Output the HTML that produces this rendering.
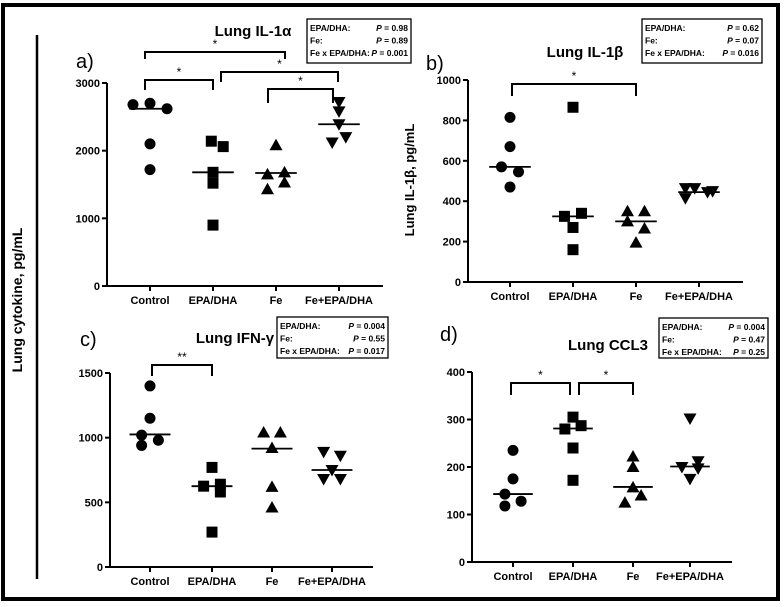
<!DOCTYPE html>
<html><head><meta charset="utf-8"><style>
body{margin:0;background:#fff;}
svg{display:block;font-family:"Liberation Sans",Arial,sans-serif;}
</style></head><body>
<svg id="fig" width="784" height="607" viewBox="0 0 784 607">
<rect x="3" y="5" width="775" height="594" fill="none" stroke="#000" stroke-width="4"/>
<line x1="37" y1="35" x2="37" y2="579" stroke="#000" stroke-width="2.5"/>
<text x="22" y="300" transform="rotate(-90 22 300)" text-anchor="middle" font-size="14" font-weight="bold">Lung cytokine, pg/mL</text>
</svg>
<script>
const categories = ["Control","EPA/DHA","Fe","Fe+EPA/DHA"];
const aValues = [[2680,2700,2620,2100,1720],[2140,2060,1680,1520,900],[2080,1650,1680,1530,1430],[2720,2580,2390,2120,2200]];
const aMedians = [2620,1680,1670,2390];
const aTicks = [0,1000,2000,3000];
const bValues = [[815,670,570,545,470],[865,325,340,270,160],[350,300,350,265,195],[465,465,445,450,415]];
const bMedians = [570,325,300,445];
const bTicks = [0,200,400,600,800,1000];
const cValues = [[1400,1150,1020,980,940],[770,625,640,580,270],[1040,1040,920,620,460],[890,860,750,680,680]];
const cMedians = [1025,625,915,750];
const cTicks = [0,500,1000,1500];
const dValues = [[235,175,143,128,118],[305,280,287,240,172],[222,200,157,140,125],[302,200,212,197,175]];
const dMedians = [143,281,158,201];
const dTicks = [0,100,200,300,400];
const aStats = [["EPA/DHA:","P = ","0.98"],["Fe:","P = ","0.89"],["Fe x EPA/DHA:","P = ","0.001"]];
const bStats = [["EPA/DHA:","P = ","0.62"],["Fe:","P = ","0.07"],["Fe x EPA/DHA:","P = ","0.016"]];
const cStats = [["EPA/DHA:","P = ","0.004"],["Fe:","P = ","0.55"],["Fe x EPA/DHA:","P = ","0.017"]];
const dStats = [["EPA/DHA:","P = ","0.004"],["Fe:","P = ","0.47"],["Fe x EPA/DHA:","P = ","0.25"]];

const NS="http://www.w3.org/2000/svg";
const svg=document.getElementById('fig');
function el(tag,attrs,parent,text){const e=document.createElementNS(NS,tag);for(const k in attrs)e.setAttribute(k,attrs[k]);if(text!==undefined)e.textContent=text;(parent||svg).appendChild(e);return e;}
const jitterA=[[-1,0,1,0,0],[-0.1,0.6,0,0,0],[0,-0.5,0.5,0.5,-0.5],[0,0,0,-0.4,0.4]];
const jitterB=[[0,0,-0.5,0.5,0],[0,-0.5,0.5,0,0],[-0.5,-0.5,0.5,0.5,0],[-0.8,-0.25,0.5,0.8,-0.8]];
const jitterC=[[0,0,-0.5,0.5,-0.5],[0,-0.5,0.5,0.5,0],[-0.5,0.5,0,0,0],[-0.5,0.5,0,-0.5,0.5]];
const jitterD=[[0,0,-0.5,0.5,-0.5],[0,-0.5,0.5,0,0],[0,0,0,0.5,-0.5],[0,-0.5,0.5,0.5,0]];
function marker(g,shape,x,y){
 const s=5.5;let m;
 if(shape===0)m=el('circle',{cx:x,cy:y,r:5.5},g);
 else if(shape===1)m=el('rect',{x:x-s,y:y-s,width:2*s,height:2*s},g);
 else if(shape===2)m=el('polygon',{points:`${x},${y-6.5} ${x-6.5},${y+5} ${x+6.5},${y+5}`},g);
 else m=el('polygon',{points:`${x},${y+6.5} ${x-6.5},${y-5} ${x+6.5},${y-5}`},g);
 m.setAttribute('fill','#000');
 
 
}
function panel(cfg){
 const g=el('g',{});
 
 
 const ys=v=>cfg.y0-(v/cfg.max)*(cfg.y0-cfg.yTop);
 const xs=i=>cfg.cx[i];
 const step=cfg.cx[1]-cfg.cx[0];
 const ya=el('line',{x1:cfg.ax,y1:ys(cfg.max),x2:cfg.ax,y2:cfg.y0+1,stroke:'#000','stroke-width':2},g);
 
 const xa=el('line',{x1:cfg.ax-1,y1:cfg.y0,x2:cfg.xEnd,y2:cfg.y0,stroke:'#000','stroke-width':2},g);
 
 cfg.ticks.forEach(t=>{
  el('line',{x1:cfg.ax-5,y1:ys(t),x2:cfg.ax,y2:ys(t),stroke:'#000','stroke-width':2},g);
  const tl=el('text',{x:cfg.ax-7,y:ys(t)+4,'text-anchor':'end','font-size':11,'font-weight':'bold'},g,String(t));
  
 });
 categories.forEach((c,i)=>{
  el('line',{x1:xs(i),y1:cfg.y0,x2:xs(i),y2:cfg.y0+5,stroke:'#000','stroke-width':2},g);
  const cl=el('text',{x:xs(i),y:cfg.y0+18,'text-anchor':'middle','font-size':11,'font-weight':'bold'},g,c);
  
 });
 cfg.values.forEach((arr,i)=>{
  arr.forEach((v,j)=>marker(g,i,xs(i)+cfg.jit[i][j]*step*0.27,ys(v)));
  const ml=el('line',{x1:xs(i)-step*0.33,y1:ys(cfg.medians[i]),x2:xs(i)+step*0.33,y2:ys(cfg.medians[i]),stroke:'#000','stroke-width':1.8},g);
  
 });
 const tt=el('text',{x:cfg.title[0],y:cfg.title[1],'text-anchor':'middle','font-size':15,'font-weight':'bold'},g,cfg.titleText);
 
 const lb=el('text',{x:cfg.label[0],y:cfg.label[1],'font-size':20},g,cfg.labelText);
 
 const bx=cfg.box;
 const br=el('rect',{x:bx[0],y:bx[1],width:bx[2],height:bx[3],fill:'#fff',stroke:'#000','stroke-width':1.3},g);
 
 cfg.stats.forEach((r,k)=>{
  const y=bx[1]+12+k*12.5;
  el('text',{x:bx[0]+3,y:y,'font-size':8.5,'font-weight':'bold'},g,r[0]);
  const p=el('text',{x:bx[0]+bx[2]-3,y:y,'font-size':8.5,'font-weight':'bold','text-anchor':'end'},g);
  el('tspan',{'font-style':'italic'},p,'P');
  el('tspan',{},p,' = '+(r[2].length<5?'  ':'')+r[2]);
  p.setAttribute('xml:space','preserve');
 });
 cfg.brackets.forEach(b=>{
  const [x1,x2,y,drop,star]=b;
  const bl=el('polyline',{points:`${x1},${y+drop} ${x1},${y} ${x2},${y} ${x2},${y+drop}`,fill:'none',stroke:'#000','stroke-width':2},g);
  
  el('text',{x:(x1+x2)/2,y:y-4,'text-anchor':'middle','font-size':12},g,star);
 });
 if(cfg.ylab){
  const yl=el('text',{x:cfg.ylab[0],y:cfg.ylab[1],transform:`rotate(-90 ${cfg.ylab[0]} ${cfg.ylab[1]})`,'text-anchor':'middle','font-size':13,'font-weight':'bold'},g,'Lung IL-1β, pg/mL');
  
 }
}
panel({name:'panel-a-il1a',ax:107,y0:286,yTop:83,max:3000,xEnd:383,cx:[150,213,276,339],ticks:aTicks,values:aValues,medians:aMedians,jit:jitterA,
 title:[253,36],titleText:'Lung IL-1α',label:[76,68],labelText:'a)',box:[307,19,104,44],stats:aStats,
 brackets:[[145,285,52,7,'*'],[145,213,80,10,'*'],[221,338,72,10,'*'],[268,333,89,14,'*']]});
panel({name:'panel-b-il1b',ax:468,y0:282,yTop:80,max:1000,xEnd:743,cx:[510,573,636,699],ticks:bTicks,values:bValues,medians:bMedians,jit:jitterB,
 title:[585,57],titleText:'Lung IL-1β',label:[426,70],labelText:'b)',box:[642,19,120,44],stats:bStats,ylab:[414,180],
 brackets:[[512,636,84,12,'*']]});
panel({name:'panel-c-ifng',ax:110,y0:567,yTop:373,max:1500,xEnd:373,cx:[150,212,272,332],ticks:cTicks,values:cValues,medians:cMedians,jit:jitterC,
 title:[235,343],titleText:'Lung IFN-γ',label:[80,346],labelText:'c)',box:[277,317,111,41],stats:cStats,
 brackets:[[152,212,365,11,'**']]});
panel({name:'panel-d-ccl3',ax:472,y0:562,yTop:372,max:400,xEnd:732,cx:[513,573,633,690],ticks:dTicks,values:dValues,medians:dMedians,jit:jitterD,
 title:[608,350],titleText:'Lung CCL3',label:[440,341],labelText:'d)',box:[659,318,109,40],stats:dStats,
 brackets:[[511,570,383,12,'*'],[579,633,383,12,'*']]});
</script>
</body></html>
